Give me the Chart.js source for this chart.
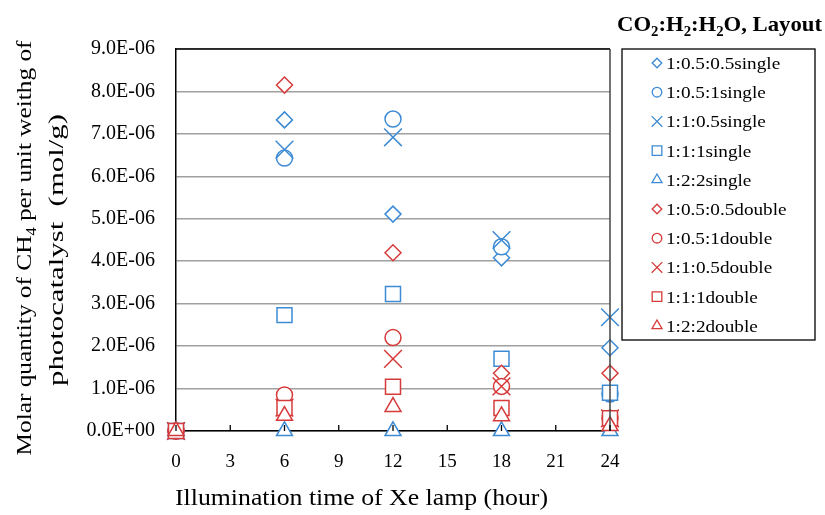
<!DOCTYPE html>
<html>
<head>
<meta charset="utf-8">
<script src="https://cdn.jsdelivr.net/npm/chart.js@4.4.1/dist/chart.umd.min.js"></script>
<style>
html,body{margin:0;padding:0;background:#fff;}
#wrap{width:825px;height:515px;position:relative;}
</style>
</head>
<body>
<div id="wrap"><canvas id="c" width="825" height="515"></canvas></div>
<script>
// ---- data ----
const hours = [0, 6, 12, 18, 24];
const xTicks = [0, 3, 6, 9, 12, 15, 18, 21, 24];
const seriesNames = ['1:0.5:0.5single','1:0.5:1single','1:1:0.5single','1:1:1single','1:2:2single',
                     '1:0.5:0.5double','1:0.5:1double','1:1:0.5double','1:1:1double','1:2:2double'];
const s_1_05_05_single = [0, 7.33e-6, 5.11e-6, 4.08e-6, 1.96e-6];
const s_1_05_1_single  = [0, 6.43e-6, 7.35e-6, 4.34e-6, 0.87e-6];
const s_1_1_05_single  = [0, 6.63e-6, 6.92e-6, 4.50e-6, 2.68e-6];
const s_1_1_1_single   = [0, 2.73e-6, 3.23e-6, 1.70e-6, 0.90e-6];
const s_1_2_2_single   = [0, 0, 0, 0, 0];
const s_1_05_05_double = [0, 8.15e-6, 4.20e-6, 1.36e-6, 1.36e-6];
const s_1_05_1_double  = [0, 0.85e-6, 2.20e-6, 1.05e-6, 0.30e-6];
const s_1_1_05_double  = [0, 0.55e-6, 1.70e-6, 1.05e-6, 0.30e-6];
const s_1_1_1_double   = [0, 0.54e-6, 1.04e-6, 0.54e-6, 0.30e-6];
const s_1_2_2_double   = [0, 0.36e-6, 0.57e-6, 0.35e-6, 0.12e-6];

const seriesValues = [s_1_05_05_single, s_1_05_1_single, s_1_1_05_single, s_1_1_1_single, s_1_2_2_single,
                      s_1_05_05_double, s_1_05_1_double, s_1_1_05_double, s_1_1_1_double, s_1_2_2_double];

// ---- styles ----
const BLUE = '#3d8bd4';
const RED = '#d63a3a';
const styles = ['rectRot','circle','crossRot','rect','triangle'];
const radii = {rectRot: 8, circle: 8, crossRot: 12.5, rect: 10.6, triangle: 9.2};
const legendRadii = {rectRot: 4.8, circle: 4.8, crossRot: 7.5, rect: 6.8, triangle: 5.8};
const SERIF = '"Liberation Serif", "Times New Roman", serif';

const datasets = seriesNames.map((name, i) => {
  const st = styles[i % 5];
  const col = i < 5 ? BLUE : RED;
  return {
    label: name,
    data: hours.map((h, k) => ({x: h, y: seriesValues[i][k]})),
    showLine: false,
    pointStyle: st,
    pointRadius: radii[st],
    pointHoverRadius: radii[st],
    pointBorderColor: col,
    pointBackgroundColor: '#ffffff',
    pointBorderWidth: 1.5,
    borderColor: col,
    backgroundColor: '#ffffff',
    clip: false,
    order: 9 - i
  };
});

function fmtExp(v) {
  if (Math.abs(v) < 1e-12) return '0.0E+00';
  let e = Math.floor(Math.log10(Math.abs(v)) + 1e-9);
  let m = v / Math.pow(10, e);
  if (Math.round(m * 10) / 10 >= 10) { m /= 10; e += 1; }
  const sign = e < 0 ? '-' : '+';
  const ae = Math.abs(e);
  return m.toFixed(1) + 'E' + sign + (ae < 10 ? '0' + ae : '' + ae);
}

// draw text runs (with optional subscripts) centred at (x, y) and stretched to width w (if given)
function drawRich(ctx, parts, x, y, size, bold, w) {
  const f = (s) => (bold ? 'bold ' : '') + s + 'px ' + SERIF;
  let total = 0;
  parts.forEach(p => { ctx.font = f(p[1] ? size * 0.65 : size); total += ctx.measureText(p[0]).width; });
  const sx = w ? w / total : 1;
  ctx.save();
  ctx.translate(x - total * sx / 2, y);
  ctx.scale(sx, 1);
  let cx = 0;
  ctx.textAlign = 'left';
  ctx.textBaseline = 'alphabetic';
  parts.forEach(p => {
    ctx.font = f(p[1] ? size * 0.65 : size);
    ctx.fillText(p[0], cx, p[1] ? size * 0.22 : 0);
    cx += ctx.measureText(p[0]).width;
  });
  ctx.restore();
}

const decor = {
  id: 'decor',
  afterDraw(chart) {
    const ctx = chart.ctx;
    const a = chart.chartArea;
    const xs = chart.scales.x;
    ctx.save();
    // frame top & right
    ctx.strokeStyle = '#000';
    ctx.lineWidth = 1.5;
    ctx.beginPath();
    ctx.moveTo(a.left, a.top); ctx.lineTo(a.right, a.top);
    ctx.stroke();
    ctx.strokeStyle = '#444';
    ctx.beginPath();
    ctx.moveTo(a.right, a.top); ctx.lineTo(a.right, a.bottom);
    ctx.stroke();
    // inward x tick marks
    ctx.strokeStyle = '#000';
    ctx.lineWidth = 1.3;
    xs.ticks.forEach(t => {
      const px = xs.getPixelForValue(t.value);
      ctx.beginPath();
      ctx.moveTo(px, a.bottom); ctx.lineTo(px, a.bottom - 6);
      ctx.stroke();
    });
    ctx.restore();
  },
  afterDatasetsDraw(chart) {
    const ctx = chart.ctx;
    ctx.save();
    ctx.fillStyle = '#000';
    // y axis title (two lines, rotated)
    ctx.save();
    ctx.translate(31, 248);
    ctx.rotate(-Math.PI / 2);
    drawRich(ctx, [['Molar quantity of CH', false], ['4', true], [' per unit weithg of', false]], 0, 0, 22, false, 415);
    ctx.restore();
    ctx.save();
    ctx.translate(63, 250);
    ctx.rotate(-Math.PI / 2);
    drawRich(ctx, [['photocatalyst  (mol/g)', false]], 0, 0, 22, false, 272);
    ctx.restore();
    // x axis title
    drawRich(ctx, [['Illumination time of Xe lamp (hour)', false]], 361.5, 505, 24, false, 373);
    // legend title
    drawRich(ctx, [['CO', false], ['2', true], [':H', false], ['2', true], [':H', false], ['2', true], ['O, Layout', false]], 719.5, 31, 22, true, 205);
    // legend box
    const bx = 622, by = 49, bw = 193, bh = 291;
    ctx.strokeStyle = '#000';
    ctx.lineWidth = 1.3;
    ctx.strokeRect(bx, by, bw, bh);
    chart.data.datasets.forEach((ds, i) => {
      const yy = 63 + i * 29.2;
      ctx.strokeStyle = ds.pointBorderColor;
      ctx.fillStyle = '#ffffff';
      ctx.lineWidth = 1.3;
      Chart.helpers.drawPoint(ctx, {pointStyle: ds.pointStyle, radius: legendRadii[ds.pointStyle], rotation: 0, borderWidth: 1.3}, 657, yy);
      ctx.fillStyle = '#000';
      ctx.font = '17px ' + SERIF;
      const tw = ctx.measureText(ds.label).width;
      drawRich(ctx, [[ds.label, false]], 666 + tw * 1.13 / 2, yy + 6, 17, false, tw * 1.13);
    });
    ctx.restore();
  }
};

new Chart(document.getElementById('c'), {
  type: 'scatter',
  data: {datasets},
  options: {
    responsive: false,
    animation: false,
    events: [],
    layout: {padding: {top: 49, right: 215, left: 0, bottom: 0}},
    plugins: {legend: {display: false}, tooltip: {enabled: false}},
    scales: {
      x: {
        type: 'linear', min: 0, max: 24,
        afterBuildTicks: (s) => { s.ticks = xTicks.map(v => ({value: v})); },
        afterFit: (s) => { s.height = 84; },
        grid: {display: true, drawOnChartArea: false, drawTicks: false},
        border: {display: true, color: '#000', width: 1.5},
        ticks: {color: '#000', font: {family: SERIF, size: 19}, padding: 20, maxRotation: 0, autoSkip: false}
      },
      y: {
        type: 'linear', min: 0, max: 9e-6,
        ticks: {stepSize: 1e-6, color: '#000', font: {family: SERIF, size: 20}, padding: 21, callback: (v) => fmtExp(v)},
        afterFit: (s) => { s.width = 176; },
        grid: {color: '#a0a0a0', lineWidth: 1.5, drawTicks: false},
        border: {display: true, color: '#000', width: 1.5}
      }
    }
  },
  plugins: [decor]
});
</script>
</body>
</html>
